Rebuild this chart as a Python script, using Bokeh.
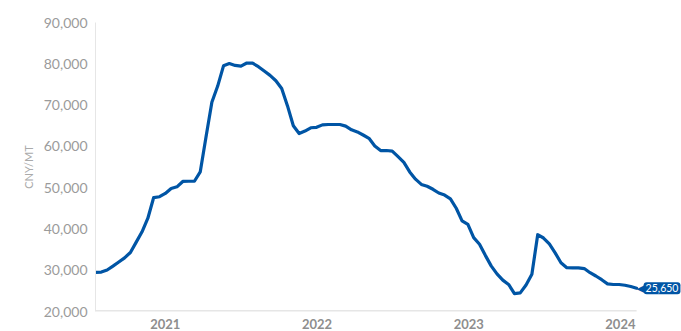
import pandas as pd
from bokeh.plotting import figure
from bokeh.models import (Range1d, FixedTicker, NumeralTickFormatter,
                          DatetimeTickFormatter, Label, ColumnDataSource)
from bokeh.embed import file_html
from bokeh.resources import INLINE

# ---- data ----
start_date = "2020-07-17"
step_days = 14
prices = [
    29500, 29550, 30050, 31000, 32000, 33000, 34300, 36800, 39300, 42600,
    47600, 47800, 48600, 49800, 50200, 51500, 51550, 51550, 53800, 62300,
    70700, 74600, 79500, 80050, 79600, 79450, 80180, 80150, 79300, 78250,
    77200, 75900, 74000, 69800, 65000, 63110, 63700, 64500, 64620, 65200,
    65290, 65290, 65290, 64900, 64000, 63500, 62750, 61950, 60100, 58990,
    58990, 58850, 57500, 56100, 53800, 52050, 50780, 50330, 49600, 48700,
    48200, 47300, 45000, 41950, 41100, 37900, 36300, 33600, 31050, 29100,
    27600, 26550, 24350, 24500, 26400, 29000, 38600, 37800, 36400, 34200,
    31800, 30620, 30580, 30580, 30400, 29400, 28600, 27700, 26700, 26540,
    26540, 26350, 26050, 25650,
]
y_ticks = [20000, 30000, 40000, 50000, 60000, 70000, 80000, 90000]
x_tick_years = [2021, 2022, 2023, 2024]
y_label = "CNY/MT"
last_label = "25,650"

dates = pd.date_range(start=start_date, periods=len(prices), freq=f"{step_days}D")
src = ColumnDataSource(dict(date=dates, price=prices))

BLUE = "#0055a5"
FONT = "Lato"
AXIS_GREY = "#e6e6e6"

# room on the right of the data for the end-value callout
pad_right = pd.Timedelta(days=108)

p = figure(width=681, height=331, x_axis_type="datetime",
           output_backend="svg", toolbar_location=None,
           x_range=Range1d(dates[0], dates[-1] + pad_right),
           y_range=Range1d(y_ticks[0], y_ticks[-1]),
           min_border_left=95, min_border_right=0,
           min_border_top=22, min_border_bottom=20)
p.outline_line_color = None
p.grid.visible = False
p.background_fill_color = "white"
p.border_fill_color = "white"

# baseline only under the data span
p.line(x=[dates[0], dates[-1]], y=[y_ticks[0], y_ticks[0]],
       line_color=AXIS_GREY, line_width=3)

p.line("date", "price", source=src, line_color=BLUE, line_width=3.2,
       line_join="round", line_cap="round")

# y axis
ya = p.yaxis[0]
ya.ticker = FixedTicker(ticks=y_ticks)
ya.formatter = NumeralTickFormatter(format="0,0")
ya.major_tick_line_color = None
ya.minor_tick_line_color = None
ya.major_tick_out = 0
ya.major_label_standoff = 8
ya.major_label_text_font = FONT
ya.major_label_text_font_size = "14px"
ya.major_label_text_color = "#9b9b9b"
ya.axis_line_color = AXIS_GREY
ya.axis_line_width = 1
ya.axis_label = y_label
ya.axis_label_text_font = FONT
ya.axis_label_text_font_size = "11px"
ya.axis_label_text_font_style = "normal"
ya.axis_label_text_color = "#aaaaaa"
ya.axis_label_standoff = 6

# x axis
xa = p.xaxis[0]
tick_ms = [pd.Timestamp(f"{y}-01-01").value / 1e6 for y in x_tick_years]
xa.ticker = FixedTicker(ticks=tick_ms)
xa.formatter = DatetimeTickFormatter(years="%Y", months="%Y", days="%Y",
                                     hours="%Y", minutes="%Y", seconds="%Y",
                                     milliseconds="%Y", microseconds="%Y",
                                     hourmin="%Y", minsec="%Y")
xa.major_tick_line_color = None
xa.minor_tick_line_color = None
xa.major_tick_out = 0
xa.major_label_standoff = 7
xa.major_label_text_font = FONT
xa.major_label_text_font_size = "13px"
xa.major_label_text_font_style = "bold"
xa.major_label_text_color = "#8e8e8e"
xa.axis_line_color = None

# end-value callout
arrow = Label(x=dates[-1], y=prices[-1], text="\u25C0", text_color=BLUE,
              text_font="DejaVu Sans", text_font_size="11px",
              text_align="left", text_baseline="middle", x_offset=0)
p.add_layout(arrow)
callout = Label(x=dates[-1], y=prices[-1], text=last_label, text_color="white",
                text_font=FONT, text_font_size="10.5px",
                text_align="left", text_baseline="middle", x_offset=7,
                background_fill_color=BLUE, padding=2, border_radius=3)
p.add_layout(callout)

open("out.html", "w").write(file_html(p, INLINE))
